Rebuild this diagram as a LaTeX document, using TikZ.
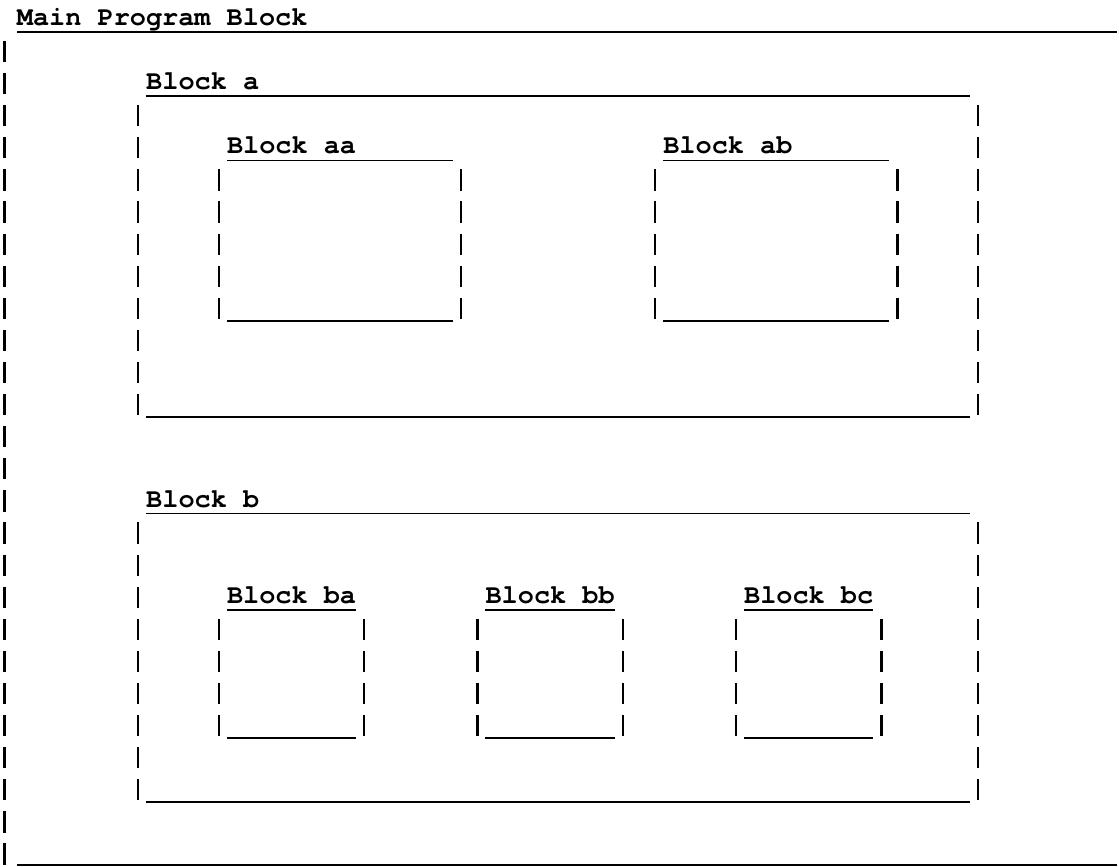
\documentclass[tikz,border=0pt]{standalone}
\usepackage{fontspec}
\setmonofont{TeX Gyre Cursor}
\begin{document}
\begin{tikzpicture}[x=16.16pt,y=-32.1pt,
  bar/.style={line width=2.4pt},
  rule/.style={line width=1.8pt},
  every node/.style={font=\ttfamily\bfseries\fontsize{26.9}{32}\selectfont,inner sep=0pt,anchor=base west}]
\useasboundingbox (-0.037,-0.997) rectangle (69.21,26.01);
% 1. Main Program Block
\node (main) at (1,-0.2){Main Program Block};
\draw[rule] (1,0)--(69.1,0);
\draw[rule] (1,25.96)--(69.1,25.96);
\foreach \k in {1,...,26}{\draw[bar] (0.25,\k-0.72)--(0.25,\k-0.06);}

% 2. inner blocks: name/left bar/right bar/title row/bottom row/text
\foreach \n/\l/\r/\t/\b/\txt in {a/8/60/2/12/Block a, aa/13/28/4/9/Block aa, ab/40/55/4/9/Block ab,
    b/8/60/15/24/Block b, ba/13/22/18/22/Block ba, bb/29/38/18/22/Block bb, bc/45/54/18/22/Block bc}{
  \node (blk\n) at (\l+1,\t-0.2){\txt};
  \draw[rule] (\l+1,\t)--(\r,\t);
  \draw[rule] (\l+1,\b)--(\r,\b);
  \pgfmathtruncatemacro{\s}{\t+1}
  \foreach \k in {\s,...,\b}{
    \draw[bar] (\l+0.5,\k-0.72)--(\l+0.5,\k-0.06);
    \draw[bar] (\r+0.5,\k-0.72)--(\r+0.5,\k-0.06);
  }
}
\end{tikzpicture}
\end{document}
